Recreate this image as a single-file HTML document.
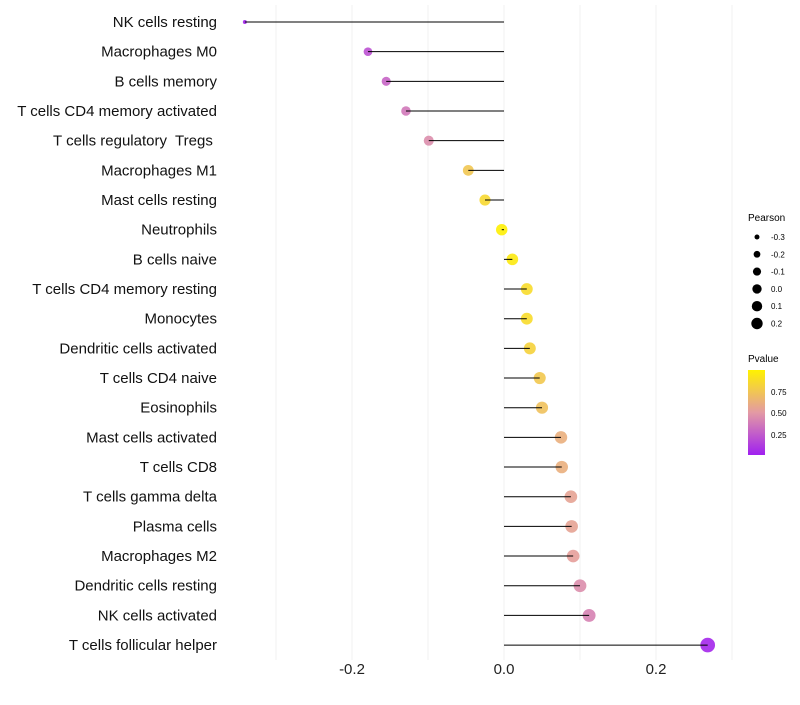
<!DOCTYPE html>
<html><head><meta charset="utf-8"><style>
body{margin:0;background:#fff;font-family:"Liberation Sans",sans-serif;}
</style></head><body>
<svg id="chart" width="800" height="700" xmlns="http://www.w3.org/2000/svg" font-family="Liberation Sans, sans-serif">
<defs>
<linearGradient id="pgrad" x1="0" y1="1" x2="0" y2="0">
<stop offset="0" stop-color="#A020F0"/><stop offset="0.5" stop-color="#E39AA4"/><stop offset="1" stop-color="#FFF200"/>
</linearGradient>
</defs>
<g id="grid"></g><g id="points"></g><g id="marks"></g><g id="labels"></g>
<g>
<text x="748" y="221" font-size="10">Pearson</text>
<g id="sizeleg"></g>
<text x="748" y="362" font-size="10">Pvalue</text>
<rect x="748" y="370" width="17" height="85" fill="url(#pgrad)"/>
<text x="771" y="395" font-size="8">0.75</text>
<text x="771" y="416" font-size="8">0.50</text>
<text x="771" y="438" font-size="8">0.25</text>
</g>
</svg>
<script>
const categories=["NK cells resting","Macrophages M0","B cells memory","T cells CD4 memory activated","T cells regulatory  Tregs ","Macrophages M1","Mast cells resting","Neutrophils","B cells naive","T cells CD4 memory resting","Monocytes","Dendritic cells activated","T cells CD4 naive","Eosinophils","Mast cells activated","T cells CD8","T cells gamma delta","Plasma cells","Macrophages M2","Dendritic cells resting","NK cells activated","T cells follicular helper"];
const pearson=[-0.341,-0.179,-0.155,-0.129,-0.099,-0.047,-0.025,-0.003,0.011,0.030,0.030,0.034,0.047,0.050,0.075,0.076,0.088,0.089,0.091,0.100,0.112,0.268];
const pvalue=[0.02,0.2,0.28,0.36,0.45,0.75,0.85,0.99,0.95,0.87,0.87,0.82,0.76,0.72,0.62,0.62,0.55,0.55,0.53,0.45,0.4,0.03];
const xTicks=[-0.2,0,0.2];
const sizeLegend=[-0.3,-0.2,-0.1,0.0,0.1,0.2];
const ns="http://www.w3.org/2000/svg";
const X=v=>504+v*760;
const Y=i=>22+i*29.67;
const R=v=>{const t=Math.max(0,(v+0.341)/0.609);return t<0.05?2:Math.sqrt(6+48*t);};
const RL=v=>Math.sqrt(4+32*Math.max(0,(v+0.341)/0.609));
function col(p){
 const s=[[0,[160,32,240]],[0.5,[227,154,164]],[1,[255,242,0]]];
 let a=p<0.5?s[0]:s[1],b=p<0.5?s[1]:s[2];let t=(p-a[0])/(b[0]-a[0]);
 return "rgb("+a[1].map((c,k)=>Math.round(c+(b[1][k]-c)*t)).join(",")+")";
}
function mk(t,at,parent){const e=document.createElementNS(ns,t);for(const k in at)e.setAttribute(k,at[k]);parent.appendChild(e);return e;}
const grid=document.getElementById('grid'),marks=document.getElementById('marks'),points=document.getElementById('points'),labels=document.getElementById('labels');
for(let v=-0.3;v<=0.31;v+=0.1){
 const g=mk('line',{x1:X(v),x2:X(v),y1:5,y2:660,stroke:'#f0f0f0','stroke-width':1},grid);
 
 
}
xTicks.forEach(v=>{
 const t=mk('text',{x:X(v),y:674,'font-size':15,'text-anchor':'middle',fill:'#222'},labels);
 t.textContent=v.toFixed(1);
 
 
});
categories.forEach((c,i)=>{
 const y=Y(i);
 const d=mk('circle',{cx:X(pearson[i]),cy:y,r:R(pearson[i]),fill:col(pvalue[i]),'fill-opacity':0.9},points);
 
 
 const l=mk('line',{x1:X(0),x2:X(pearson[i]),y1:y,y2:y,stroke:'#000','stroke-width':1},marks);
 
 
 const t=mk('text',{x:217,y:y+5,'font-size':15,'text-anchor':'end',fill:'#111'},labels);
 t.setAttribute('style','white-space:pre');
 t.textContent=c;
 
 
});
const sl=document.getElementById('sizeleg');
sizeLegend.forEach((v,i)=>{
 const y=237+i*17.3;
 const c=mk('circle',{cx:757,cy:y,r:RL(v)},sl);
 
 
 const t=mk('text',{x:771,y:y+3,'font-size':8},sl);
 t.textContent=v.toFixed(1);
 
 
});
</script>
</body></html>
